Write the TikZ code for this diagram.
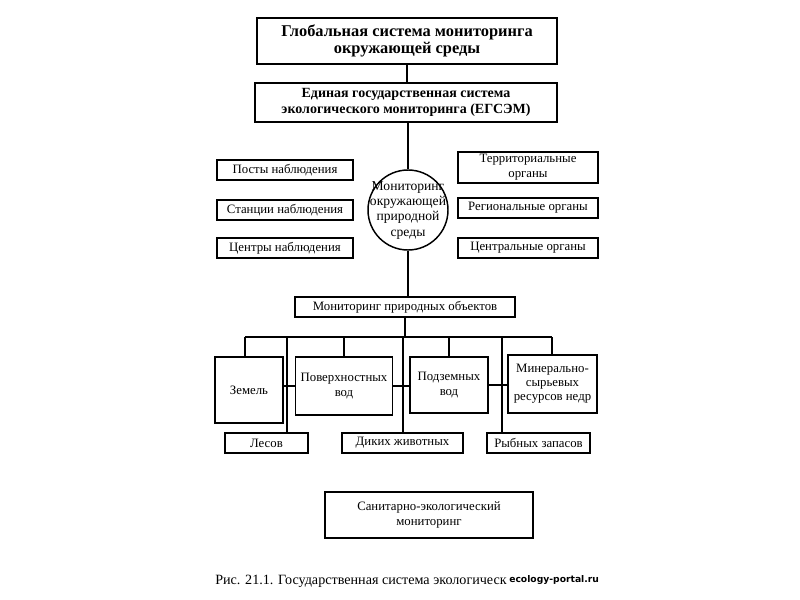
\documentclass[tikz,border=0pt]{standalone}
\usepackage{fontspec}
\setmainfont{Liberation Serif}
\newfontfamily\wmfont{DejaVu Sans}
\begin{document}
\begin{tikzpicture}[x=0.75pt,y=-0.75pt,
  bx/.style={draw, line width=1.1pt, inner sep=0pt, align=center, font=\fontsize{9.6}{11}\selectfont},
  ln/.style={line width=1.5pt}]
\useasboundingbox (0,0) rectangle (800,600);
% top level
\node[bx, minimum width=225pt, minimum height=34.5pt, font=\fontsize{12.3}{12.8}\selectfont\bfseries] (top) at (407,41) {Глобальная система мониторинга\\окружающей среды};
\node[bx, minimum width=226.5pt, minimum height=29.25pt, font=\fontsize{10.5}{11.5}\selectfont\bfseries] (egs) at (406,102.5) {Единая государственная система\\экологического мониторинга (ЕГСЭМ)};
% circle
\node[draw, circle, line width=1.1pt, minimum size=60pt, inner sep=0pt] (circ) at (408,210) {};
\node[inner sep=0pt, align=center, font=\fontsize{10.2}{11.5}\selectfont] (circtxt) at (circ.center) {Мониторинг\\окружающей\\природной\\среды};
% left boxes
\node[bx, minimum width=102pt, minimum height=15pt] (posts) at (285,170) {Посты наблюдения};
\node[bx, minimum width=102pt, minimum height=15pt] (stat) at (285,210) {Станции наблюдения};
\node[bx, minimum width=102pt, minimum height=15pt] (cent) at (285,248) {Центры наблюдения};
% right boxes
\node[bx, minimum width=105pt, minimum height=23.25pt, font=\fontsize{9.6}{11.25}\selectfont] (terr) at (528,167.5) {Территориальные\\органы};
\node[bx, minimum width=105pt, minimum height=15pt] (reg) at (528,208) {Региональные органы};
\node[bx, minimum width=105pt, minimum height=15pt] (cor) at (528,248) {Центральные органы};
% natural objects
\node[bx, minimum width=165pt, minimum height=15pt] (mpo) at (405,307) {Мониторинг природных объектов};
\node[bx, minimum width=51pt, minimum height=49.5pt] (zem) at (249,390) {Земель};
\node[bx, minimum width=72.75pt, minimum height=43.5pt, font=\fontsize{9.6}{11.25}\selectfont] (pov) at (344,386) {Поверхностных\\вод};
\node[bx, minimum width=58.5pt, minimum height=42pt, font=\fontsize{9.6}{11.25}\selectfont] (podz) at (449,385) {Подземных\\вод};
\node[bx, minimum width=66.75pt, minimum height=43.5pt, font=\fontsize{9.6}{10.5}\selectfont] (min) at (552.5,384) {Минерально-\\сырьевых\\ресурсов недр};
\node[bx, minimum width=62.25pt, minimum height=15pt] (les) at (266.5,443) {Лесов};
\node[bx, minimum width=90.75pt, minimum height=15pt] (dik) at (402.5,443) {Диких животных};
\node[bx, minimum width=77.25pt, minimum height=15pt] (ryb) at (538.5,443) {Рыбных запасов};
% sanitary
\node[bx, minimum width=156pt, minimum height=34.5pt, font=\fontsize{9.6}{11.25}\selectfont] (san) at (429,515) {Санитарно-экологический\\мониторинг};
% caption
\node[anchor=west, inner sep=0pt, font=\fontsize{10.6}{12}\selectfont] (cap) at (215,581) {Рис. 21.1. Государственная система экологическ};
\node[anchor=west, inner sep=0pt, font=\wmfont\bfseries\fontsize{6.9}{8}\selectfont] (wm) at (509,580) {ecology-portal.ru};
% junction coordinates
\coordinate (busL) at (245,337);
\coordinate (busR) at (552,337);
\coordinate (j1) at (287,337);
\coordinate (j2) at (403,337);
\coordinate (j3) at (502,337);
% connectors
\draw[ln] (top.south) -- (top.south |- egs.north);
\draw[ln] (circ.north |- egs.south) -- (circ.north);
\draw[ln] (circ.south) -- (circ.south |- mpo.north);
\draw[ln] (mpo.south) -- (mpo.south |- busL);
\draw[ln] (busL) -- (busR);
\draw[ln] (busL) -- (busL |- zem.north);
\draw[ln] (busR) -- (busR |- min.north);
\draw[ln] (pov.north) -- (pov.north |- busL);
\draw[ln] (podz.north) -- (podz.north |- busL);
\draw[ln] (j1) -- (j1 |- les.north);
\draw[ln] (j2) -- (j2 |- dik.north);
\draw[ln] (j3) -- (j3 |- ryb.north);
\draw[ln] (pov.west -| zem.east) -- (pov.west);
\draw[ln] (pov.east) -- (pov.east -| podz.west);
\draw[ln] (podz.east) -- (podz.east -| min.west);
\end{tikzpicture}
\end{document}
